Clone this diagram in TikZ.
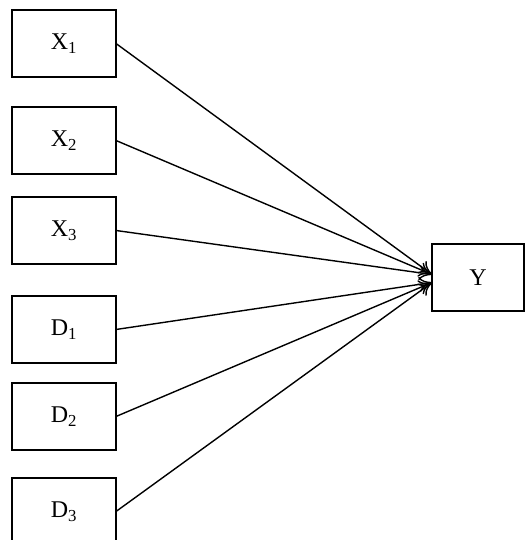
\documentclass[tikz,border=0pt]{standalone}
\usepackage{fontspec}
\setmainfont{Liberation Serif}
\usetikzlibrary{positioning,arrows.meta}

\begin{document}
\begin{tikzpicture}[x=1pt,y=1pt,
	font=\fontsize{24}{28}\selectfont,
	conn/.style={line width=1.4pt,-{To[length=13pt,width=15pt]}},
	box/.style={rectangle,draw,line width=1.5pt,outer sep=0pt,minimum width=104pt,minimum height=67pt}]
\useasboundingbox (0,0) rectangle (526,540);
\node[box](x1) at (64,496.5){X\textsubscript{1}};
\node[box](x2)[below=30pt of x1]{X\textsubscript{2}};
\node[box](x3)[below=23pt of x2]{X\textsubscript{3}};
\node[box](d1)[below=32pt of x3]{D\textsubscript{1}};
\node[box](d2)[below=20pt of d1]{D\textsubscript{2}};
\node[box](d3)[below=28pt of d2]{D\textsubscript{3}};
\node[box,minimum width=92pt](y) at (478,262.5){Y};
\draw[conn](x1.east) to ([yshift=3pt]y.west);
\draw[conn](x2.east) to ([yshift=3pt]y.west);
\draw[conn](x3.east) to ([yshift=3pt]y.west);
\draw[conn](d1.east) to ([yshift=-5pt]y.west);
\draw[conn](d2.east) to ([yshift=-5pt]y.west);
\draw[conn](d3.east) to ([yshift=-5pt]y.west);
\end{tikzpicture}
\end{document}
